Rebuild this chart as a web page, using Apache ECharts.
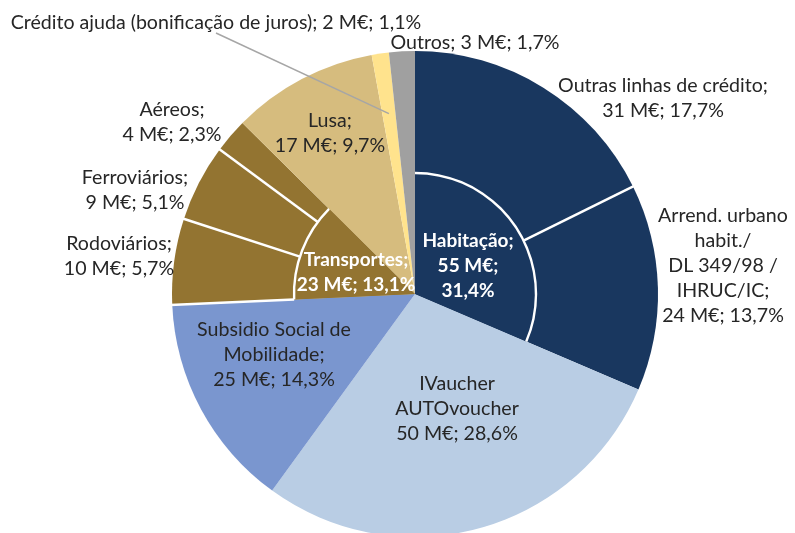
<!DOCTYPE html>
<html>
<head>
<meta charset="utf-8">
<script src="https://cdn.jsdelivr.net/npm/echarts@6/dist/echarts.min.js"></script>
<style>
  html, body { margin: 0; padding: 0; background: #ffffff; }
  #chart { width: 795px; height: 533px; }
</style>
</head>
<body>
<div id="chart"></div>
<script>
// Outer ring: individual support lines (M€)
const categories = [
  'Outras linhas de crédito',
  'Arrend. urbano habit./ DL 349/98 / IHRUC/IC',
  'IVaucher AUTOvoucher',
  'Subsidio Social de Mobilidade',
  'Rodoviários',
  'Ferroviários',
  'Aéreos',
  'Lusa',
  'Crédito ajuda (bonificação de juros)',
  'Outros'
];
const values = [31, 24, 50, 25, 10, 9, 4, 17, 2, 3];

// Inner ring: aggregated groups and the outer items they cover
const groups = ['Habitação', 'Transportes'];
const groupValues = [55, 23];
const groupMembers = [[0, 1], [4, 5, 6]];

// ---- styling ----
const colors = ['#19375f', '#19375f', '#b9cde4', '#7a96cf', '#937431', '#937431', '#937431', '#d6bc7e', '#ffe38d', '#a0a0a0'];
const groupColors = ['#19375f', '#937431'];
const labelTemplates = [
  '{n};\n{v} M€; {p}%',
  'Arrend. urbano\nhabit./\nDL 349/98 /\nIHRUC/IC;\n{v} M€; {p}%',
  'IVaucher\nAUTOvoucher\n{v} M€; {p}%',
  'Subsidio Social de\nMobilidade;\n{v} M€; {p}%',
  '{n};\n{v} M€; {p}%',
  '{n};\n{v} M€; {p}%',
  '{n};\n{v} M€; {p}%',
  '{n};\n{v} M€; {p}%',
  '{n}; {v} M€; {p}%',
  '{n}; {v} M€; {p}%'
];
const groupTemplates = ['{n};\n{v} M€;\n{p}%', '{n};\n{v} M€; {p}%'];
const outerLabelAt = [[663, 98], [723, 266], [457, 409], [274, 355], [119, 256], [135, 190], [172, 122], [330, 133], [216, 23], [475, 43]];
const groupLabelAt = [[468, 266], [356, 272]];

const CX = 415, CY = 294, R = 243, RI = 121;
const FONT = 'Lato';
const total = values.reduce((a, b) => a + b, 0);
const pct = v => (v / total * 100).toFixed(1).replace('.', ',');
const fill = (tpl, n, v) => tpl.replace('{n}', n).replace('{v}', v).replace('{p}', pct(v));

// Polar helper: angle measured clockwise from 12 o'clock
function polar(cum, r) {
  const a = cum / total * Math.PI * 2;
  return [CX + r * Math.sin(a), CY - r * Math.cos(a)];
}
const cumBefore = i => values.slice(0, i).reduce((a, b) => a + b, 0);

// Outer data
const outerData = categories.map((c, i) => ({
  name: c,
  value: values[i],
  itemStyle: { color: colors[i] },
  label: { formatter: fill(labelTemplates[i], c, values[i]) }
}));

// Inner data: group slices with transparent gaps between them
const innerData = [];
const ringData = [];
let pos = 0;
groupMembers.forEach((members, g) => {
  const start = members[0];
  const end = members[members.length - 1] + 1;
  const gap = cumBefore(start) - pos;
  if (gap > 0) {
    innerData.push({ name: '', value: gap, itemStyle: { color: 'rgba(0,0,0,0)' }, label: { show: false }, groupIndex: -1 });
    ringData.push({ value: gap, itemStyle: { color: 'rgba(0,0,0,0)' } });
  }
  innerData.push({
    name: groups[g],
    value: groupValues[g],
    itemStyle: { color: groupColors[g] },
    label: { formatter: fill(groupTemplates[g], groups[g], groupValues[g]) },
    groupIndex: g
  });
  ringData.push({ value: groupValues[g], itemStyle: { color: '#ffffff' } });
  pos = cumBefore(end);
});
if (total - pos > 0) {
  innerData.push({ name: '', value: total - pos, itemStyle: { color: 'rgba(0,0,0,0)' }, label: { show: false }, groupIndex: -1 });
  ringData.push({ value: total - pos, itemStyle: { color: 'rgba(0,0,0,0)' } });
}

// White separators between sibling items of each group (outside the inner ring)
const sepCums = [];
groupMembers.forEach(members => {
  for (let k = 0; k < members.length; k++) {
    if (k === 0 && members[0] !== 0 && members.length > 2) sepCums.push(cumBefore(members[0]));
    if (k > 0) sepCums.push(cumBefore(members[k]));
  }
});
const graphics = sepCums.map(c => {
  const p1 = polar(c, RI), p2 = polar(c, R + 2);
  return {
    type: 'line', z: 100, silent: true,
    shape: { x1: p1[0], y1: p1[1], x2: p2[0], y2: p2[1] },
    style: { stroke: '#ffffff', lineWidth: 2.5 }
  };
});

// Leader line for the thin "Crédito ajuda" slice
const creditoIdx = 8;
const creditoStart = polar(cumBefore(creditoIdx) + values[creditoIdx] / 2, R * 0.75);
const creditoEnd = [outerLabelAt[creditoIdx][0], outerLabelAt[creditoIdx][1] + 10];
graphics.push({
  type: 'line', z: 100, silent: true,
  shape: { x1: creditoStart[0], y1: creditoStart[1], x2: creditoEnd[0], y2: creditoEnd[1] },
  style: { stroke: '#a6a6a6', lineWidth: 1.5 }
});

const chart = echarts.init(document.getElementById('chart'), null, { renderer: 'canvas' });
chart.setOption({
  animation: false,
  backgroundColor: '#ffffff',
  textStyle: { fontFamily: FONT },
  graphic: graphics,
  series: [
    {
      type: 'pie',
      z: 1,
      center: [CX, CY],
      radius: [0, R],
      startAngle: 90,
      clockwise: true,
      avoidLabelOverlap: false,
      silent: true,
      itemStyle: { borderWidth: 0 },
      label: {
        show: true,
        position: 'outside',
        color: '#262626',
        fontFamily: FONT,
        fontSize: 19.6,
        lineHeight: 25,
        align: 'center'
      },
      labelLine: { show: false },
      labelLayout: function (p) {
        if (p.seriesIndex !== 0) return;
        const at = outerLabelAt[p.dataIndex];
        return { x: at[0], y: at[1], align: 'center', verticalAlign: 'middle' };
      },
      data: outerData
    },
    {
      type: 'pie',
      z: 2,
      center: [CX, CY],
      radius: [0, RI],
      startAngle: 90,
      clockwise: true,
      avoidLabelOverlap: false,
      silent: true,
      itemStyle: { borderWidth: 0 },
      label: {
        show: true,
        position: 'inside',
        color: '#ffffff',
        fontFamily: FONT,
        fontWeight: 'bold',
        fontSize: 19,
        lineHeight: 25,
        align: 'center'
      },
      labelLine: { show: false },
      labelLayout: function (p) {
        if (p.seriesIndex !== 1) return;
        const g = innerData[p.dataIndex].groupIndex;
        if (g < 0) return;
        const at = groupLabelAt[g];
        return { x: at[0], y: at[1], align: 'center', verticalAlign: 'middle' };
      },
      data: innerData
    },
    {
      type: 'pie',
      z: 3,
      center: [CX, CY],
      radius: [RI - 1.2, RI + 1.2],
      startAngle: 90,
      clockwise: true,
      silent: true,
      label: { show: false },
      labelLine: { show: false },
      itemStyle: { borderWidth: 0 },
      data: ringData
    }
  ]
});
</script>
</body>
</html>
